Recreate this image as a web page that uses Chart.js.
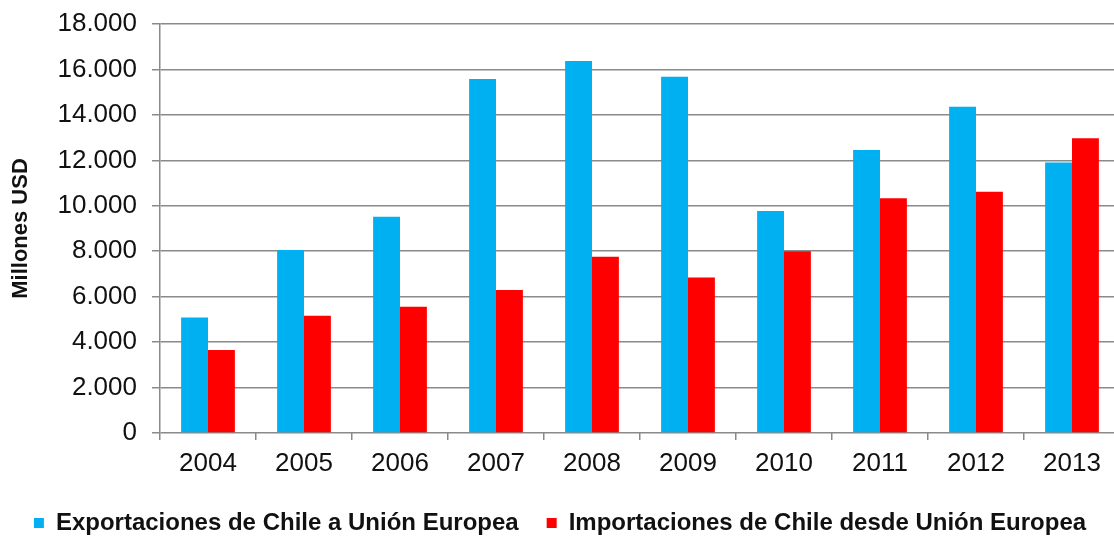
<!DOCTYPE html>
<html lang="es">
<head>
<meta charset="utf-8">
<title>Comercio Chile - Unión Europea</title>
<script src="https://cdn.jsdelivr.net/npm/chart.js@4.4.1/dist/chart.umd.min.js"></script>
<style>
  html, body { margin: 0; padding: 0; background: #ffffff; overflow: hidden; }
  #wrap { width: 1120px; height: 549px; }
</style>
</head>
<body>
<div id="wrap"><canvas id="chart" width="1120" height="549"></canvas></div>
<script>
// Años del periodo
const years = ['2004', '2005', '2006', '2007', '2008', '2009', '2010', '2011', '2012', '2013'];

// Millones de USD
const exportaciones = [5080, 8050, 9520, 15580, 16370, 15680, 9770, 12450, 14360, 11900];
const importaciones = [3650, 5160, 5560, 6290, 7760, 6840, 8000, 10330, 10620, 12970];

const seriesNames = ['Exportaciones de Chile a Unión Europea', 'Importaciones de Chile desde Unión Europea'];
const seriesColors = ['#00B0F0', '#FF0000'];

const yTitle = 'Millones USD';
const yMax = 18000;
const yStep = 2000;

const FONT = "'Liberation Sans', Arial, sans-serif";
const GRID = '#8a8a8a';
const INK = '#111111';

// separador de miles con punto
function miles(v) {
  return String(v).replace(/\B(?=(\d{3})+(?!\d))/g, '.');
}

new Chart(document.getElementById('chart'), {
  type: 'bar',
  data: {
    labels: years,
    datasets: [
      { label: seriesNames[0], data: exportaciones, backgroundColor: seriesColors[0], borderWidth: 0 },
      { label: seriesNames[1], data: importaciones, backgroundColor: seriesColors[1], borderWidth: 0 }
    ]
  },
  options: {
    responsive: false,
    animation: false,
    events: [],
    categoryPercentage: 0.56,
    barPercentage: 1.0,
    layout: { padding: { top: 24, left: 0, right: 0, bottom: 4 } },
    plugins: {
      tooltip: { enabled: false },
      legend: {
        position: 'bottom',
        labels: {
          boxWidth: 10,
          boxHeight: 10,
          padding: 28,
          color: INK,
          font: { family: FONT, size: 24, weight: 'bold' }
        }
      }
    },
    scales: {
      x: {
        grid: {
          offset: true,
          drawOnChartArea: false,
          drawTicks: true,
          tickLength: 7,
          color: GRID,
          lineWidth: 1.5
        },
        border: { display: false },
        ticks: {
          color: INK,
          padding: 8,
          font: { family: FONT, size: 26 },
          maxRotation: 0
        },
        afterFit(scale) { scale.height = 50; }
      },
      y: {
        min: 0,
        max: yMax,
        grid: {
          color: GRID,
          lineWidth: 1.5,
          tickLength: 8,
          drawTicks: true
        },
        border: { display: true, color: GRID, width: 1.5 },
        ticks: {
          stepSize: yStep,
          color: INK,
          padding: 15,
          font: { family: FONT, size: 26 },
          callback: (v) => miles(v)
        },
        title: {
          display: true,
          text: yTitle,
          color: INK,
          padding: { top: 8, bottom: 0 },
          font: { family: FONT, size: 22, weight: 'bold' }
        },
        afterFit(scale) {
          scale.width = 160;
          scale.paddingTop = 0;
          scale.paddingBottom = 0;
        }
      }
    }
  }
});
</script>
</body>
</html>
